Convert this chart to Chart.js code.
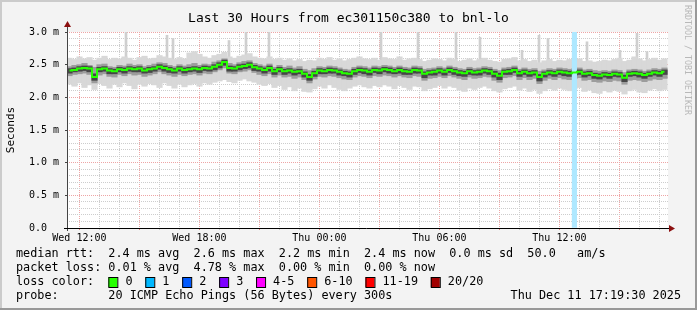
<!DOCTYPE html>
<html>
<head>
<meta charset="utf-8">
<script src="https://cdn.jsdelivr.net/npm/chart.js@4"></script>
<style>
  html, body { margin: 0; padding: 0; background: #f3f3f3; }
  canvas { display: block; }
</style>
</head>
<body>
<canvas id="smoke" width="697" height="310"></canvas>
<script>
// time axis in hours since Wed 00:00
const startHour = 11.38;   // left edge of the graph
const endHour = 41.43;     // right edge of the graph
const stepHours = 0.25;    // one smoke column

const xTickHours = [12, 18, 24, 30, 36];
const xTickLabels = ['Wed 12:00', 'Wed 18:00', 'Thu 00:00', 'Thu 06:00', 'Thu 12:00'];

// median rtt (ms) per column
const median = [
  2.41,2.42,2.44,2.45,2.44,2.31,2.43,2.44,2.41,2.40,
  2.43,2.42,2.44,2.43,2.44,2.41,2.43,2.44,2.47,2.45,
  2.43,2.41,2.44,2.42,2.43,2.44,2.43,2.45,2.44,2.47,
  2.50,2.54,2.45,2.44,2.47,2.48,2.50,2.46,2.44,2.42,
  2.45,2.40,2.43,2.40,2.41,2.39,2.40,2.36,2.31,2.37,
  2.41,2.40,2.42,2.41,2.39,2.37,2.36,2.40,2.42,2.41,
  2.39,2.42,2.41,2.43,2.42,2.40,2.42,2.40,2.39,2.42,
  2.41,2.36,2.38,2.39,2.41,2.39,2.42,2.40,2.38,2.37,
  2.40,2.38,2.39,2.41,2.40,2.36,2.33,2.39,2.40,2.42,
  2.37,2.39,2.37,2.38,2.31,2.36,2.38,2.37,2.39,2.38,
  2.37,2.38,2.39,2.36,2.37,2.34,2.33,2.35,2.34,2.36,
  2.35,2.30,2.36,2.37,2.36,2.34,2.36,2.38,2.37,2.39
];

// outer smoke (min .. max of the pings)
const outerLo = [
  2.20,2.17,2.22,2.15,2.19,2.12,2.21,2.18,2.14,2.20,
  2.16,2.22,2.18,2.13,2.20,2.17,2.21,2.19,2.15,2.22,
  2.18,2.14,2.20,2.16,2.19,2.21,2.17,2.22,2.20,2.23,
  2.25,2.27,2.24,2.22,2.26,2.28,2.25,2.23,2.20,2.18,
  2.21,2.15,2.18,2.12,2.16,2.10,2.14,2.09,2.08,2.13,
  2.17,2.14,2.19,2.15,2.12,2.10,2.14,2.17,2.19,2.16,
  2.14,2.18,2.16,2.19,2.17,2.13,2.18,2.15,2.12,2.17,
  2.16,2.10,2.13,2.15,2.18,2.14,2.17,2.15,2.11,2.09,
  2.14,2.12,2.15,2.17,2.14,2.10,2.08,2.13,2.15,2.17,
  2.11,2.14,2.09,2.12,2.06,2.10,2.13,2.11,2.14,2.12,
  2.10,2.13,2.15,2.09,2.11,2.07,2.06,2.10,2.08,2.11,
  2.09,2.05,2.10,2.12,2.08,2.07,2.11,2.13,2.10,2.12
];
const outerHi = [
  2.60,2.58,2.62,2.59,2.61,2.57,2.60,2.63,2.58,2.60,
  2.59,2.62,2.60,2.57,2.61,2.63,2.59,2.60,2.64,2.62,
  2.60,2.58,2.61,2.59,2.68,2.70,2.66,2.62,2.60,2.64,
  2.66,2.69,2.62,2.60,2.63,2.65,2.67,2.62,2.60,2.59,
  2.62,2.58,2.60,2.57,2.59,2.56,2.58,2.55,2.57,2.56,
  2.60,2.58,2.61,2.57,2.59,2.56,2.58,2.60,2.62,2.59,
  2.58,2.60,2.57,2.61,2.59,2.58,2.62,2.57,2.59,2.60,
  2.58,2.55,2.57,2.59,2.58,2.56,2.60,2.58,2.55,2.57,
  2.59,2.56,2.58,2.60,2.57,2.55,2.54,2.58,2.59,2.61,
  2.56,2.58,2.55,2.57,2.53,2.56,2.58,2.55,2.57,2.56,
  2.58,2.57,2.59,2.55,2.56,2.54,2.55,2.57,2.56,2.58,
  2.60,2.55,2.57,2.62,2.59,2.56,2.58,2.60,2.57,2.59
];

// middle smoke band
const midLo = [
  2.33,2.35,2.36,2.37,2.35,2.22,2.34,2.36,2.32,2.31,
  2.35,2.33,2.36,2.34,2.35,2.32,2.34,2.36,2.39,2.36,
  2.34,2.32,2.35,2.33,2.35,2.36,2.34,2.37,2.36,2.39,
  2.42,2.45,2.37,2.36,2.39,2.40,2.42,2.38,2.35,2.33,
  2.36,2.31,2.34,2.31,2.32,2.29,2.31,2.27,2.22,2.28,
  2.32,2.31,2.33,2.32,2.30,2.28,2.27,2.31,2.33,2.32,
  2.30,2.33,2.32,2.34,2.33,2.31,2.33,2.31,2.30,2.33,
  2.32,2.26,2.29,2.30,2.32,2.30,2.33,2.31,2.29,2.27,
  2.31,2.29,2.30,2.32,2.31,2.26,2.23,2.30,2.31,2.33,
  2.27,2.30,2.27,2.29,2.21,2.26,2.29,2.27,2.30,2.28,
  2.27,2.29,2.30,2.26,2.27,2.24,2.23,2.25,2.24,2.26,
  2.25,2.20,2.26,2.27,2.26,2.24,2.26,2.28,2.27,2.29
];
const midHi = [
  2.47,2.49,2.50,2.52,2.49,2.46,2.50,2.51,2.47,2.46,
  2.49,2.48,2.51,2.49,2.50,2.47,2.49,2.51,2.53,2.52,
  2.49,2.47,2.50,2.48,2.50,2.52,2.49,2.51,2.50,2.54,
  2.56,2.59,2.52,2.50,2.53,2.55,2.56,2.52,2.50,2.48,
  2.51,2.46,2.49,2.46,2.48,2.45,2.47,2.43,2.41,2.44,
  2.47,2.46,2.48,2.47,2.45,2.43,2.42,2.46,2.48,2.47,
  2.45,2.48,2.47,2.49,2.48,2.46,2.48,2.46,2.45,2.48,
  2.47,2.43,2.44,2.45,2.47,2.45,2.48,2.46,2.44,2.43,
  2.46,2.44,2.45,2.47,2.46,2.43,2.41,2.45,2.46,2.48,
  2.43,2.45,2.43,2.44,2.40,2.42,2.44,2.43,2.45,2.44,
  2.43,2.44,2.45,2.42,2.43,2.41,2.40,2.41,2.40,2.42,
  2.41,2.38,2.42,2.43,2.42,2.40,2.42,2.44,2.43,2.45
];

// dense core of the smoke around the median
const coreLo = [
  2.37,2.39,2.40,2.41,2.39,2.26,2.39,2.40,2.36,2.36,
  2.39,2.37,2.40,2.39,2.39,2.37,2.38,2.40,2.43,2.40,
  2.38,2.37,2.40,2.37,2.39,2.40,2.38,2.41,2.40,2.42,
  2.45,2.49,2.40,2.40,2.42,2.44,2.45,2.41,2.40,2.37,
  2.40,2.35,2.39,2.35,2.37,2.34,2.36,2.31,2.26,2.32,
  2.36,2.36,2.37,2.37,2.34,2.33,2.31,2.35,2.38,2.36,
  2.34,2.38,2.36,2.39,2.37,2.36,2.37,2.35,2.35,2.37,
  2.37,2.30,2.34,2.34,2.37,2.34,2.38,2.35,2.33,2.32,
  2.35,2.34,2.34,2.37,2.35,2.31,2.27,2.35,2.35,2.38,
  2.32,2.35,2.32,2.34,2.25,2.31,2.34,2.32,2.35,2.33,
  2.32,2.34,2.35,2.31,2.33,2.29,2.28,2.31,2.29,2.32,
  2.31,2.24,2.32,2.33,2.31,2.29,2.32,2.34,2.32,2.35
];
const coreHi = [
  2.44,2.45,2.47,2.48,2.47,2.36,2.46,2.47,2.44,2.43,
  2.46,2.45,2.47,2.46,2.47,2.44,2.46,2.47,2.50,2.48,
  2.46,2.44,2.47,2.45,2.46,2.47,2.46,2.48,2.47,2.50,
  2.53,2.57,2.48,2.47,2.50,2.51,2.53,2.49,2.47,2.45,
  2.48,2.43,2.46,2.43,2.44,2.42,2.43,2.39,2.35,2.40,
  2.44,2.43,2.45,2.44,2.42,2.40,2.39,2.43,2.45,2.44,
  2.42,2.45,2.44,2.46,2.45,2.43,2.45,2.43,2.42,2.45,
  2.44,2.39,2.41,2.42,2.44,2.42,2.45,2.43,2.41,2.40,
  2.43,2.41,2.42,2.44,2.43,2.40,2.37,2.42,2.43,2.45,
  2.40,2.42,2.40,2.41,2.35,2.39,2.41,2.40,2.42,2.41,
  2.40,2.41,2.42,2.39,2.40,2.37,2.36,2.38,2.37,2.39,
  2.38,2.34,2.39,2.40,2.39,2.37,2.39,2.41,2.40,2.42
];

// occasional slow pings sticking out of the smoke
const spikeHours = [14.33, 16.38, 16.68, 19.48, 20.33, 21.48, 27.08, 28.93, 30.83, 32.03, 34.13, 34.98, 35.43, 37.38, 39.03, 39.88, 40.38];
const spikeTop   = [3.00, 2.95, 2.90, 2.87, 3.00, 3.00, 3.00, 3.00, 3.00, 2.92, 2.72, 2.95, 2.90, 2.85, 2.72, 2.98, 2.70];
const spikeBase = 2.5;

// packet loss events (hour, lost pings out of 20)
const lossHours = [36.75];
const lossCounts = [1];

const lossLabels = ['0', '1', '2', '3', '4-5', '6-10', '11-19', '20/20'];
const lossColors = ['#26ff00', '#00b8ff', '#0059ff', '#7e00ff', '#ff00ff', '#ff5500', '#ff0000', '#a10000'];

const statRows = [
  'median rtt:  2.4 ms avg  2.6 ms max  2.2 ms min  2.4 ms now  0.0 ms sd  50.0   am/s',
  'packet loss: 0.01 % avg  4.78 % max  0.00 % min  0.00 % now'
];
const probeText = 'probe:       20 ICMP Echo Pings (56 Bytes) every 300s';
const stampText = 'Thu Dec 11 17:19:30 2025';
const titleText = 'Last 30 Hours from ec301150c380 to bnl-lo';

const MONO = '"DejaVu Sans Mono", "Liberation Mono", monospace';
const sampleHours = median.map((_, i) => startHour + stepHours * (i + 0.5));

function isLoss(h) {
  return lossHours.some(l => Math.abs(l - h) < 1e-6);
}

const decor = {
  id: 'decor',
  beforeDraw(chart) {
    const { ctx, chartArea: a, width, height } = chart;
    ctx.save();
    ctx.fillStyle = '#f3f3f3';
    ctx.fillRect(0, 0, width, height);
    ctx.fillStyle = '#ffffff';
    ctx.fillRect(a.left, a.top, a.right - a.left, a.bottom - a.top);
    ctx.restore();
  },
  afterDraw(chart) {
    const { ctx, chartArea: a, width, height } = chart;
    ctx.save();

    // axes with arrows
    ctx.lineWidth = 1;
    ctx.strokeStyle = '#444';
    ctx.beginPath();
    ctx.moveTo(a.left + 0.5, a.bottom + 3);
    ctx.lineTo(a.left + 0.5, a.top - 6);
    ctx.stroke();
    ctx.strokeStyle = '#000';
    ctx.beginPath();
    ctx.moveTo(a.left - 3, a.bottom + 0.5);
    ctx.lineTo(a.right + 1, a.bottom + 0.5);
    ctx.stroke();
    ctx.fillStyle = '#8c1010';
    ctx.beginPath();
    ctx.moveTo(a.left + 0.5, a.top - 11);
    ctx.lineTo(a.left - 3, a.top - 5);
    ctx.lineTo(a.left + 4, a.top - 5);
    ctx.closePath();
    ctx.fill();
    ctx.beginPath();
    ctx.moveTo(a.right + 7, a.bottom + 0.5);
    ctx.lineTo(a.right + 1, a.bottom - 3);
    ctx.lineTo(a.right + 1, a.bottom + 4);
    ctx.closePath();
    ctx.fill();

    // title
    ctx.fillStyle = '#000';
    ctx.font = '13px ' + MONO;
    ctx.textAlign = 'center';
    ctx.textBaseline = 'middle';
    ctx.fillText(titleText, width / 2, 19);

    // y title
    ctx.save();
    ctx.translate(11, (a.top + a.bottom) / 2);
    ctx.rotate(-Math.PI / 2);
    ctx.font = '11px ' + MONO;
    ctx.fillText('Seconds', 0, 0);
    ctx.restore();

    // watermark
    ctx.save();
    ctx.translate(687, 60);
    ctx.rotate(Math.PI / 2);
    ctx.font = '8.3px ' + MONO;
    ctx.fillStyle = '#b8b8b8';
    ctx.fillText('RRDTOOL / TOBI OETIKER', 0, 0);
    ctx.restore();

    // legend block
    ctx.font = '11.8px ' + MONO;
    ctx.textAlign = 'left';
    ctx.fillStyle = '#000';
    const cw = ctx.measureText('0').width;
    const rowY = [254, 268, 282, 296];
    ctx.fillText(statRows[0], 16, rowY[0]);
    ctx.fillText(statRows[1], 16, rowY[1]);
    ctx.fillText('loss color:', 16, rowY[2]);
    let bx = 16 + 13 * cw;
    lossLabels.forEach((lab, i) => {
      ctx.fillStyle = lossColors[i];
      ctx.fillRect(bx, rowY[2] - 5, 9, 10);
      ctx.strokeStyle = '#000';
      ctx.strokeRect(bx + 0.5, rowY[2] - 4.5, 9, 10);
      ctx.fillStyle = '#000';
      ctx.fillText(lab, bx + 2.4 * cw, rowY[2]);
      bx += (4.2 + lab.length) * cw;
    });
    ctx.fillText(probeText, 16, rowY[3]);
    ctx.textAlign = 'right';
    ctx.fillText(stampText, 681, rowY[3]);

    // 3d frame
    ctx.fillStyle = '#cbcbcb';
    ctx.fillRect(0, 0, width, 2);
    ctx.fillRect(0, 0, 2, height);
    ctx.fillStyle = '#999999';
    ctx.fillRect(0, height - 2, width, 2);
    ctx.fillRect(width - 2, 0, 2, height);
    ctx.restore();
  }
};

const floating = (lo, hi) => sampleHours.map((h, i) => ({ x: h, y: [lo[i], hi[i]] }));

new Chart(document.getElementById('smoke'), {
  type: 'bar',
  data: {
    datasets: [
      {
        type: 'line',
        data: sampleHours.map((h, i) => ({ x: h, y: median[i] })),
        borderColor: lossColors[0],
        borderWidth: 2,
        pointRadius: 0,
        stepped: 'middle',
        segment: {
          borderColor: c => isLoss(sampleHours[c.p0DataIndex]) ? lossColors[1] : lossColors[0]
        },
        order: 1
      },
      {
        data: lossHours.map((h, i) => ({ x: h, y: [0, 3] })),
        backgroundColor: '#aee8ff',
        barThickness: 4.5,
        grouped: false,
        order: 2
      },
      {
        data: floating(coreLo, coreHi),
        backgroundColor: '#464646',
        barThickness: 5.5,
        grouped: false,
        order: 3
      },
      {
        data: floating(midLo, midHi),
        backgroundColor: '#9c9c9c',
        barThickness: 5.5,
        grouped: false,
        order: 4
      },
      {
        data: floating(outerLo, outerHi),
        backgroundColor: '#d8d8d8',
        barThickness: 5.5,
        grouped: false,
        order: 5
      },
      {
        data: spikeHours.map((h, i) => ({ x: h, y: [spikeBase, spikeTop[i]] })),
        backgroundColor: '#cfcfcf',
        barThickness: 2,
        grouped: false,
        order: 6
      }
    ]
  },
  options: {
    responsive: false,
    animation: false,
    devicePixelRatio: 1,
    layout: { padding: { left: 0, right: 29, top: 32, bottom: 0 } },
    plugins: { legend: { display: false }, tooltip: { enabled: false } },
    scales: {
      x: {
        type: 'linear',
        min: startHour,
        max: endHour,
        offset: false,
        afterBuildTicks: s => {
          const t = [];
          for (let h = Math.ceil(startHour); h <= endHour; h++) t.push({ value: h });
          s.ticks = t;
        },
        afterFit: s => { s.height = 82; },
        ticks: {
          autoSkip: false,
          maxRotation: 0,
          padding: 2,
          color: '#000',
          font: { family: MONO, size: 10 },
          callback: v => {
            const k = xTickHours.indexOf(Math.round(v));
            return k >= 0 ? xTickLabels[k] : '';
          }
        },
        grid: {
          offset: false,
          color: c => c.tick && Math.round(c.tick.value) % 3 === 0 ? '#eea5a5' : '#cdcdcd',
          tickColor: c => c.tick && Math.round(c.tick.value) % 3 === 0 ? '#e08080' : '#c8c8c8',
          tickLength: 2
        },
        border: { display: false, dash: [1, 1] }
      },
      y: {
        min: 0,
        max: 3,
        afterBuildTicks: s => {
          const t = [];
          for (let i = 0; i <= 30; i++) t.push({ value: i / 10 });
          s.ticks = t;
        },
        afterFit: s => { s.width = 67; },
        ticks: {
          autoSkip: false,
          padding: 6,
          color: '#000',
          font: { family: MONO, size: 10 },
          callback: v => {
            const tenth = Math.round(v * 10);
            if (tenth % 5 !== 0) return '';
            return tenth === 0 ? '0.0  ' : (tenth / 10).toFixed(1) + ' m';
          }
        },
        grid: {
          color: c => c.tick && Math.round(c.tick.value * 10) % 5 === 0 ? '#eea5a5' : '#cdcdcd',
          tickColor: c => c.tick && Math.round(c.tick.value * 10) % 5 === 0 ? '#444' : 'rgba(0,0,0,0)',
          tickLength: 2
        },
        border: { display: false, dash: [1, 1] }
      }
    }
  },
  plugins: [decor]
});
</script>
</body>
</html>
